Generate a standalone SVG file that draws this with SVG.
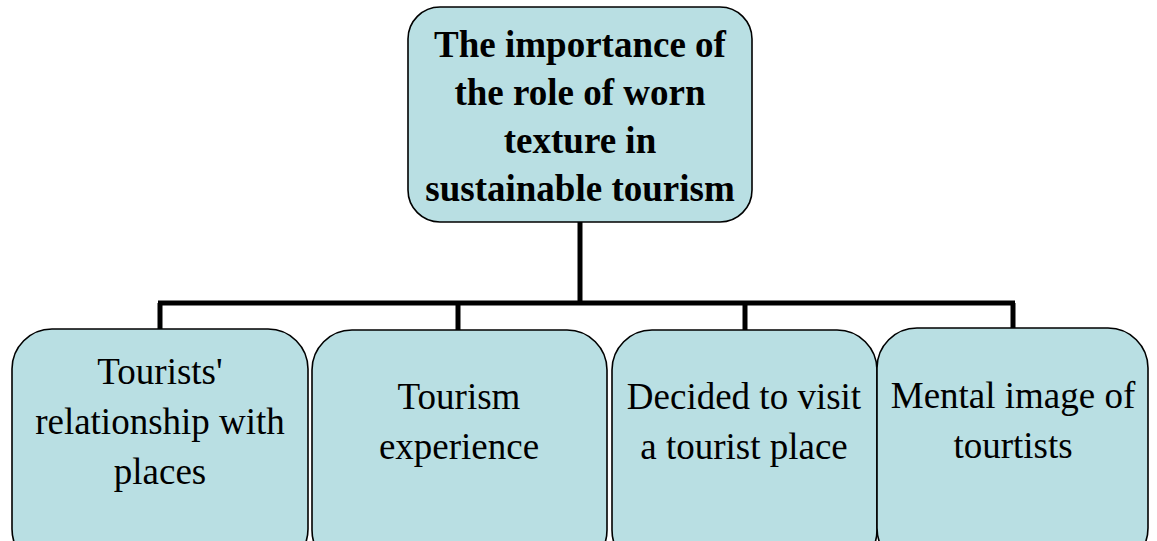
<svg xmlns="http://www.w3.org/2000/svg" width="1157" height="541" viewBox="0 0 1157 541">
<style>
.box{fill:#B9DFE3;stroke:#000;stroke-width:1.6}
.conn{fill:none;stroke:#000;stroke-width:5;stroke-linejoin:miter}
.t{font-family:"Liberation Serif","Times New Roman",serif;font-size:37px;fill:#000;text-anchor:middle}
.tb{font-weight:bold}
</style>
<rect width="1157" height="541" fill="#fff"/>
<g id="connectors">
<path class="conn" d="M580 222 V303"/>
<path class="conn" d="M158 303 H1015"/>
<path class="conn" d="M160 303 V330"/>
<path class="conn" d="M458 303 V330"/>
<path class="conn" d="M745 303 V330"/>
<path class="conn" d="M1013 303 V329"/>
</g>
<g id="root">
<rect class="box" x="408" y="7" width="344" height="215" rx="32"/>
<text class="t tb" x="580" y="57">The importance of</text>
<text class="t tb" x="580" y="105">the role of worn</text>
<text class="t tb" x="580" y="153">texture in</text>
<text class="t tb" x="580" y="201">sustainable tourism</text>
</g>
<g id="n1">
<rect class="box" x="12" y="329" width="296" height="240" rx="40"/>
<text class="t" x="160" y="384">Tourists'</text>
<text class="t" x="160" y="434">relationship with</text>
<text class="t" x="160" y="484">places</text>
</g>
<g id="n2">
<rect class="box" x="312" y="330" width="295" height="240" rx="40"/>
<text class="t" x="459" y="409">Tourism</text>
<text class="t" x="459" y="459">experience</text>
</g>
<g id="n3">
<rect class="box" x="612" y="330" width="265" height="240" rx="40"/>
<text class="t" x="744" y="409">Decided to visit</text>
<text class="t" x="744" y="459">a tourist place</text>
</g>
<g id="n4">
<rect class="box" x="877" y="328" width="271" height="240" rx="40"/>
<text class="t" x="1013" y="408">Mental image of</text>
<text class="t" x="1013" y="458">tourtists</text>
</g>
</svg>
